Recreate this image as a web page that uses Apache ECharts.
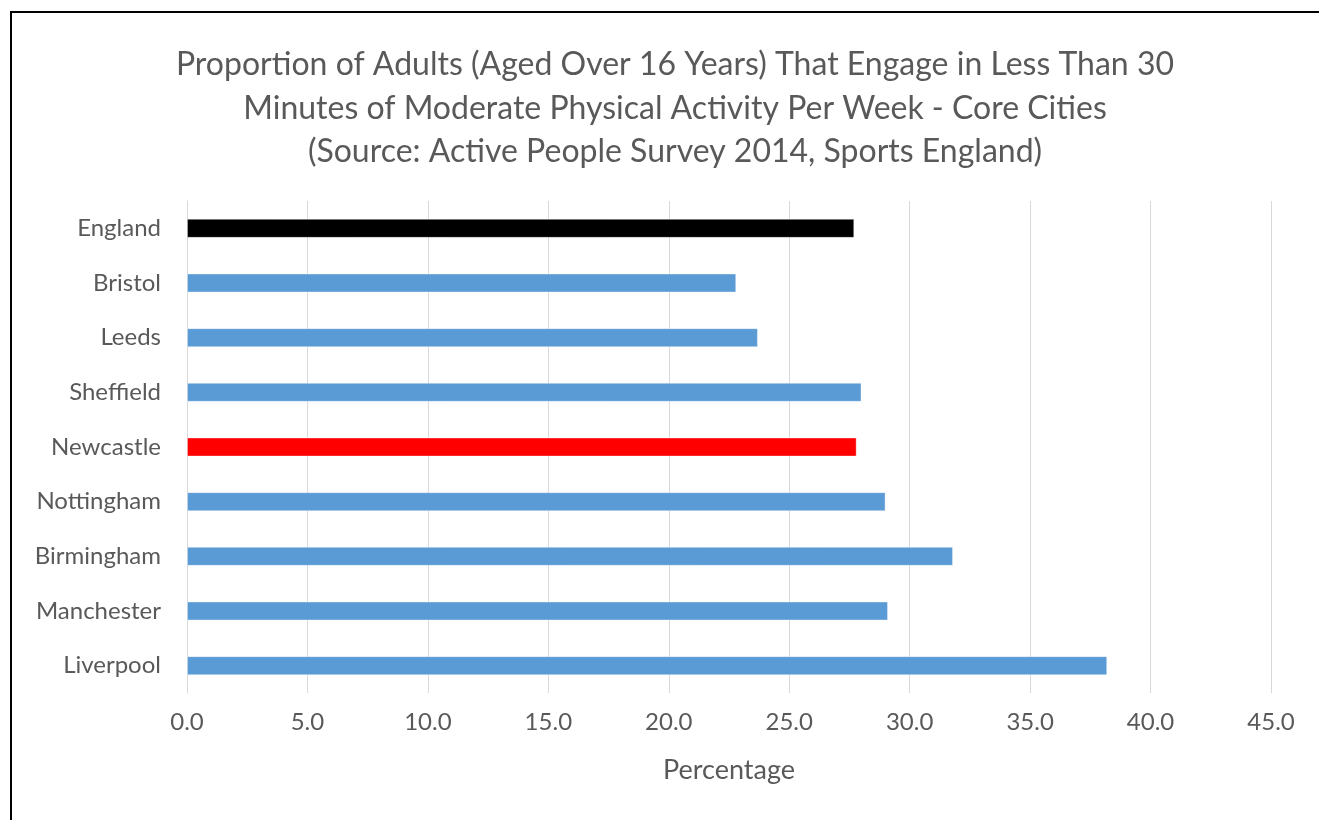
<!DOCTYPE html>
<html><head><meta charset="utf-8">
<script src="https://cdn.jsdelivr.net/npm/echarts@6/dist/echarts.min.js"></script>
<style>
html,body{margin:0;padding:0;background:#fff;overflow:hidden}
#frame{position:absolute;left:10px;top:11px;width:1400px;height:900px;border:2px solid #000;box-sizing:border-box}
#chart{position:absolute;left:0;top:0;width:1319px;height:820px}
</style></head>
<body>
<div id="frame"></div>
<div id="chart"></div>
<script>
const categories = ['England','Bristol','Leeds','Sheffield','Newcastle','Nottingham','Birmingham','Manchester','Liverpool'];
const values = [27.7, 22.8, 23.7, 28.0, 27.8, 29.0, 31.8, 29.1, 38.2];
const barColors = ['#000000','#5B9BD5','#5B9BD5','#5B9BD5','#FF0000','#5B9BD5','#5B9BD5','#5B9BD5','#5B9BD5'];
const titleLines = ['Proportion of Adults (Aged Over 16 Years) That Engage in Less Than 30','Minutes of Moderate Physical Activity Per Week - Core Cities','(Source: Active People Survey 2014, Sports England)'];
const xTitle = 'Percentage';

const chart = echarts.init(document.getElementById('chart'));
const font = 'Lato, "Open Sans", sans-serif';
chart.setOption({
  animation:false,
  backgroundColor:'transparent',
  title:{
    text: titleLines.join('\n'),
    left: 670, top: 38, textAlign:'center',
    textStyle:{fontFamily:font,fontSize:32,fontWeight:'normal',color:'#595959',lineHeight:43.5}
  },
  grid:{left:187,right:48,top:201,bottom:127,containLabel:false},
  xAxis:{
    type:'value',min:0,max:45,interval:5,
    axisLine:{show:false},axisTick:{show:false},
    splitLine:{lineStyle:{color:'#D9D9D9',width:1}},
    axisLabel:{formatter:v=>v.toFixed(1),fontFamily:font,fontSize:24,color:'#595959',margin:17},
    name:xTitle,nameLocation:'middle',nameGap:64,
    nameTextStyle:{fontFamily:font,fontSize:27,color:'#595959'}
  },
  yAxis:{
    type:'category',data:categories,inverse:true,
    axisLine:{show:true,lineStyle:{color:'#D9D9D9'}},axisTick:{show:false},
    axisLabel:{fontFamily:font,fontSize:24,color:'#595959',margin:26}
  },
  series:[{
    type:'bar',barWidth:19,
    data: values.map((v,i)=>({value:v,itemStyle:{color:barColors[i]}})),
    itemStyle:{borderColor:'rgba(255,255,255,0.35)',borderWidth:1}
  }]
});
</script>
</body></html>
